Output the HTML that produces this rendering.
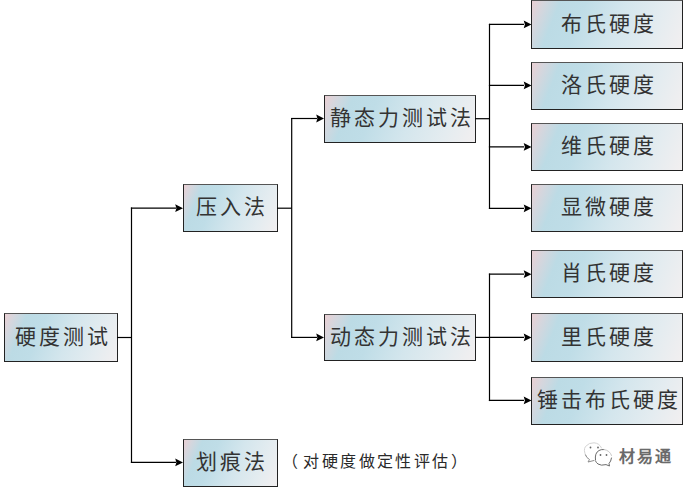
<!DOCTYPE html>
<html lang="zh-CN"><head><meta charset="utf-8">
<style>
html,body{margin:0;padding:0;background:#fff;}
body{width:692px;height:487px;position:relative;overflow:hidden;font-family:"Liberation Serif",serif;}
.b{position:absolute;box-sizing:border-box;border:1.5px solid #222;border-top-color:#555;
background:linear-gradient(112deg,#eacfd3 0%,#d6d6dd 7%,#bcdbe5 17%,#bfdde7 32%,#d4e6ed 56%,#e4ecf0 80%,#f2eff0 100%);
display:flex;align-items:center;justify-content:center;color:#333;font-size:21px;letter-spacing:3px;white-space:nowrap;}
.b span{margin-right:-3px;position:relative;top:-3px;}
svg{position:absolute;left:0;top:0;}
.note{position:absolute;left:285px;top:449.5px;font-size:16px;line-height:24px;color:#2a2a2a;letter-spacing:2.4px;white-space:nowrap;text-spacing-trim:space-all;}
.wm{position:absolute;left:619px;top:445px;font-size:16px;line-height:24px;color:#6a6a6a;font-weight:bold;letter-spacing:2px;white-space:nowrap;text-shadow:1px 1px 1px #fff,-1px -1px 1px #fff;}
</style></head><body>
<div class="b" style="left:4px;top:313px;width:114px;height:49px"><span>硬度测试</span></div>
<div class="b" style="left:183px;top:184px;width:95px;height:48px"><span>压入法</span></div>
<div class="b" style="left:183px;top:439px;width:95px;height:48px"><span>划痕法</span></div>
<div class="b" style="left:324px;top:95px;width:152px;height:48px"><span>静态力测试法</span></div>
<div class="b" style="left:324px;top:314px;width:152px;height:47px"><span>动态力测试法</span></div>
<div class="b" style="left:531px;top:0px;width:152px;height:49px"><span>布氏硬度</span></div>
<div class="b" style="left:531px;top:62px;width:152px;height:48px"><span>洛氏硬度</span></div>
<div class="b" style="left:531px;top:123px;width:152px;height:48px"><span>维氏硬度</span></div>
<div class="b" style="left:531px;top:184px;width:152px;height:48px"><span>显微硬度</span></div>
<div class="b" style="left:531px;top:250px;width:152px;height:48px"><span>肖氏硬度</span></div>
<div class="b" style="left:531px;top:313px;width:152px;height:49px"><span>里氏硬度</span></div>
<div class="b" style="left:531px;top:377px;width:152px;height:48px"><span>锤击布氏硬度</span></div>
<svg width="692" height="487" viewBox="0 0 692 487"><g stroke="#000" stroke-width="1.2" fill="none"><line x1="117.00" y1="337.50" x2="131.50" y2="337.50"/><line x1="131.50" y1="207.55" x2="131.50" y2="463.06"/><line x1="130.90" y1="208.15" x2="176.00" y2="208.15"/><line x1="130.90" y1="462.46" x2="176.00" y2="462.46"/><line x1="277.00" y1="208.20" x2="291.70" y2="208.20"/><line x1="291.70" y1="117.90" x2="291.70" y2="338.00"/><line x1="291.10" y1="118.50" x2="317.00" y2="118.50"/><line x1="291.10" y1="337.40" x2="317.00" y2="337.40"/><line x1="475.00" y1="118.70" x2="489.50" y2="118.70"/><line x1="489.50" y1="23.85" x2="489.50" y2="208.90"/><line x1="488.90" y1="24.45" x2="524.00" y2="24.45"/><line x1="488.90" y1="85.46" x2="524.00" y2="85.46"/><line x1="488.90" y1="146.90" x2="524.00" y2="146.90"/><line x1="488.90" y1="208.30" x2="524.00" y2="208.30"/><line x1="475.00" y1="337.40" x2="489.50" y2="337.40"/><line x1="489.50" y1="273.60" x2="489.50" y2="401.06"/><line x1="488.90" y1="274.20" x2="524.00" y2="274.20"/><line x1="488.90" y1="337.40" x2="524.00" y2="337.40"/><line x1="488.90" y1="400.46" x2="524.00" y2="400.46"/></g><g fill="#000"><path d="M183.00 208.15 L175.20 204.25 L176.40 208.15 L175.20 212.05 Z"/><path d="M183.00 462.46 L175.20 458.56 L176.40 462.46 L175.20 466.36 Z"/><path d="M324.00 118.50 L316.20 114.60 L317.40 118.50 L316.20 122.40 Z"/><path d="M324.00 337.40 L316.20 333.50 L317.40 337.40 L316.20 341.30 Z"/><path d="M531.50 24.45 L523.70 20.55 L524.90 24.45 L523.70 28.35 Z"/><path d="M531.50 85.46 L523.70 81.56 L524.90 85.46 L523.70 89.36 Z"/><path d="M531.50 146.90 L523.70 143.00 L524.90 146.90 L523.70 150.80 Z"/><path d="M531.50 208.30 L523.70 204.40 L524.90 208.30 L523.70 212.20 Z"/><path d="M531.50 274.20 L523.70 270.30 L524.90 274.20 L523.70 278.10 Z"/><path d="M531.50 337.40 L523.70 333.50 L524.90 337.40 L523.70 341.30 Z"/><path d="M531.50 400.46 L523.70 396.56 L524.90 400.46 L523.70 404.36 Z"/></g></svg>
<div class="note"><span style="margin-left:-3.5px;margin-right:3.5px">（</span>对硬度做定性评估）</div>
<div class="wm">材易通</div>
<svg width="692" height="487" style="position:absolute;left:0;top:0"><g fill="none" stroke-linecap="round"><path d="M586 456 Q583 450 585.5 446.5 Q589 442.5 594 442.8 Q599.5 443.2 601.5 448" stroke="#d4d4d4" stroke-width="1"/><path d="M585.5 455 Q586.5 458 589.5 459.5 L588 462 L594 460.5" stroke="#8c8c8c" stroke-width="1"/><path d="M595.5 460 Q594.5 453 599 450.5 Q601 449.3 604 449.5" stroke="#6c6c6c" stroke-width="1"/><path d="M604 449.5 Q610 450.5 611.5 455.5" stroke="#c8c8c8" stroke-width="1"/><path d="M611.5 458 Q611 461.5 609 463.5 L609.5 466 L606 464.6 Q601 466 598 464 Q596 462.5 595.5 461" stroke="#6c6c6c" stroke-width="1"/></g><g fill="#666"><circle cx="590.5" cy="447.5" r="0.9"/><circle cx="598" cy="447.5" r="0.9"/><circle cx="600.5" cy="455" r="0.9"/><circle cx="606.5" cy="455" r="0.9"/></g></svg>
</body></html>
